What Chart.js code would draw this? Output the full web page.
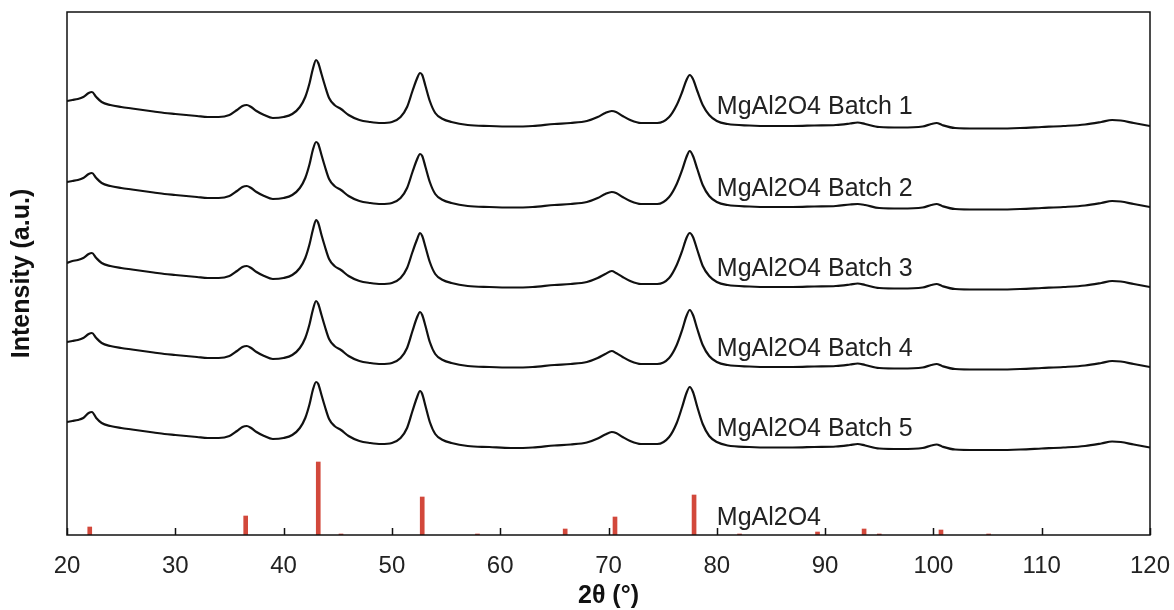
<!DOCTYPE html>
<html>
<head>
<meta charset="utf-8">
<script src="https://cdn.jsdelivr.net/npm/chart.js@4.4.1/dist/chart.umd.min.js"></script>
<style>
  html, body { margin: 0; padding: 0; background: #fff; }
  #wrap { width: 1174px; height: 610px; }
</style>
</head>
<body>
<div id="wrap"><canvas id="xrd"></canvas></div>
<script>
// 2θ positions (degrees) shared by all five scans
const twoTheta = [
  20, 20.5, 21, 21.5, 22, 22.3, 22.7, 23.2, 24, 25,
  26, 27, 28, 29, 30, 31, 32, 33, 34, 35,
  35.7, 36.2, 36.6, 37.0, 37.5, 38.2, 39, 40, 40.8, 41.5,
  42.0, 42.4, 42.7, 43.0, 43.2, 43.5, 43.8, 44.2, 44.7, 45.3,
  46, 47, 48, 49, 50, 50.8, 51.4, 51.9, 52.3, 52.6,
  52.8, 53.1, 53.5, 54.0, 54.7, 55.5, 57, 59, 61, 63,
  65, 66.5, 68, 69, 69.7, 70.3, 70.7, 71.3, 72, 73,
  74.5, 75.6, 76.3, 76.8, 77.2, 77.5, 77.8, 78.2, 78.7, 79.3,
  80, 81, 83, 85, 87, 89, 91, 92.3, 93.0, 93.7,
  95, 97, 99, 99.8, 100.3, 100.8, 102, 104, 106, 108,
  110, 112, 114, 115.5, 116.5, 117.3, 118.5, 120
];

// stacked intensities (a.u.), top trace first
const batch1 = [
  434, 435, 436, 438, 442, 443, 438, 433, 430, 428,
  426.5, 425, 423.5, 422, 421, 420, 419, 418, 418, 420,
  425, 429, 430, 428, 424, 420, 417, 418, 421, 428,
  438, 452, 466, 475, 472, 461, 450, 437, 430, 426,
  420, 415, 413, 412, 413, 418, 428, 444, 456, 462,
  460, 449, 434, 422, 416, 413, 410, 409, 408.5, 409,
  411, 412, 414, 418, 422, 424, 423, 419, 415, 412,
  412, 418, 430, 443, 455, 460, 456, 444, 430, 420,
  414, 411, 409.5, 409, 409, 409.5, 410, 411.5, 412.5, 411,
  408, 407.5, 408.5, 411, 412, 410, 407, 406.5, 406.5, 407,
  408, 409, 410.5, 413, 415, 414.5, 412, 409
];
const batch2 = [
  353, 354, 355, 357, 361, 362, 357, 352, 349, 347,
  345.5, 344, 342.5, 341, 340, 339, 338, 337, 337, 339,
  344, 348, 349, 347, 343, 339, 336, 337, 340, 347,
  357, 371, 385, 393, 391, 380, 369, 356, 349, 345,
  339, 334, 332, 331, 332, 337, 347, 363, 375, 381,
  379, 368, 353, 341, 335, 332, 329, 328, 327.5, 328,
  330, 331, 333, 337, 341, 343, 342, 338, 334, 331,
  331, 338, 351, 365, 378, 384, 379, 366, 350, 339,
  333, 330, 328.5, 328, 328, 328.5, 329, 330.5, 331, 330,
  327, 326.5, 327.5, 330, 331, 329, 326, 325.5, 325.5, 326,
  327, 328, 329.5, 332, 334, 333.5, 331, 328
];
const batch3 = [
  272, 274, 275, 277, 281, 282, 277, 272, 269, 267,
  265.5, 264, 262.5, 261, 260, 259, 258, 257, 257, 259,
  264, 268, 269, 267, 263, 259, 256, 257, 260, 267,
  277, 291, 305, 315, 312, 300, 289, 276, 269, 265,
  259, 254, 252, 251, 252, 257, 267, 283, 295, 302,
  299, 288, 273, 261, 255, 252, 249, 248, 247.5, 248,
  250, 251, 253, 257, 261, 264, 262, 258, 254, 251,
  251, 257, 270, 284, 297, 302, 298, 285, 269, 259,
  253, 250, 248.5, 248, 248, 248.5, 249, 250.5, 251.5, 250,
  247, 246.5, 247.5, 250, 251, 249, 246, 245.5, 245.5, 246,
  247, 248, 249.5, 252, 254, 253.5, 251, 248
];
const batch4 = [
  193, 194, 195, 197, 201, 202, 197, 192, 189, 187,
  185.5, 184, 182.5, 181, 180, 179, 178, 177, 177, 179,
  184, 188, 189, 187, 183, 179, 176, 177, 180, 187,
  197, 211, 225, 234, 231, 220, 209, 196, 189, 185,
  179, 174, 172, 171, 172, 177, 187, 204, 217, 223,
  220, 209, 193, 181, 175, 172, 169, 168, 167.5, 168,
  170, 171, 173, 177, 181, 184, 182, 178, 174, 171,
  171, 177, 190, 205, 219, 225, 220, 206, 190, 179,
  173, 170, 168.5, 168, 168, 168.5, 169, 170.5, 171.5, 170,
  167, 166.5, 167.5, 170, 171, 169, 166, 165.5, 165.5, 166,
  167, 168, 169.5, 172, 174, 173.5, 171, 168
];
const batch5 = [
  113, 114, 115, 117, 122, 123, 117, 112, 109, 107,
  105.5, 104, 102.5, 101, 100, 99, 98, 97, 97, 99,
  104, 108, 109, 107, 103, 99, 96, 97, 100, 107,
  117, 131, 145, 153, 151, 140, 129, 116, 109, 105,
  99, 94, 92, 91, 92, 97, 107, 124, 137, 144,
  141, 129, 113, 101, 95, 92, 89, 88, 87, 87.5,
  89.5, 90.5, 92.5, 96.5, 100.5, 103, 102, 98, 94, 91,
  91, 98, 112, 128, 142, 148, 143, 128, 111, 99,
  93, 89.5, 88, 87.5, 87.5, 88, 88.5, 90, 91, 89.5,
  86.5, 86, 87, 89.5, 90.5, 88.5, 85.5, 85, 85, 85.5,
  86.5, 87.5, 89, 91.5, 93.5, 93, 90.5, 87.5
];

// reference MgAl2O4 stick pattern
const refPos = [22.1, 36.5, 43.2, 45.3, 52.8, 57.9, 66.0, 70.6, 77.9, 82.1, 89.3, 93.6, 95.0, 100.7, 105.1];
const refInt = [8, 19, 73, 1, 38, 1, 6, 18, 40, 1, 3, 6, 1, 5, 1];

const scanNames = ['MgAl2O4 Batch 1', 'MgAl2O4 Batch 2', 'MgAl2O4 Batch 3', 'MgAl2O4 Batch 4', 'MgAl2O4 Batch 5'];
const refName = 'MgAl2O4';
const xTicks = [20, 30, 40, 50, 60, 70, 80, 90, 100, 110, 120];

const FONT = '"Liberation Sans", Arial, Helvetica, sans-serif';
const scans = [batch1, batch2, batch3, batch4, batch5];

// where each trace name sits: x in degrees, text baseline in a.u.
const nameX = 80;
const nameY = [421, 339, 259, 179, 99, 10];

const datasets = scans.map((s, k) => ({
  type: 'line',
  label: scanNames[k],
  data: twoTheta.map((t, i) => ({ x: t, y: s[i] })),
  borderColor: '#111',
  borderWidth: 2.2,
  pointRadius: 0,
  cubicInterpolationMode: 'monotone',
  fill: false
}));

datasets.push({
  type: 'bar',
  label: refName,
  data: refPos.map((p, i) => ({ x: p, y: refInt[i] })),
  backgroundColor: '#d2483b',
  borderWidth: 0,
  barThickness: 4
});

// frame, inward ticks and the trace names
const decorations = {
  id: 'decorations',
  afterDatasetsDraw(chart) {
    const { ctx, chartArea: a, scales: { x, y } } = chart;
    ctx.save();
    ctx.strokeStyle = '#111';
    ctx.lineWidth = 1.5;
    ctx.strokeRect(a.left, a.top, a.right - a.left, a.bottom - a.top);

    ctx.beginPath();
    xTicks.forEach(v => {
      const px = Math.round(x.getPixelForValue(v)) + 0.5;
      ctx.moveTo(px, a.bottom);
      ctx.lineTo(px, a.bottom - 7);
    });
    ctx.stroke();

    ctx.font = '25px ' + FONT;
    ctx.fillStyle = '#222';
    ctx.textAlign = 'left';
    ctx.textBaseline = 'alphabetic';
    const names = scanNames.concat([refName]);
    names.forEach((n, i) => {
      ctx.fillText(n, x.getPixelForValue(nameX), y.getPixelForValue(nameY[i]));
    });
    ctx.restore();
  }
};

new Chart(document.getElementById('xrd'), {
  type: 'line',
  data: { datasets: datasets },
  options: {
    responsive: true,
    maintainAspectRatio: false,
    animation: false,
    layout: { padding: { left: 0, right: 24, top: 12, bottom: 0 } },
    plugins: {
      legend: { display: false },
      tooltip: { enabled: false }
    },
    scales: {
      x: {
        type: 'linear',
        min: 20,
        max: 120,
        offset: false,
        grid: { display: false, drawTicks: false },
        border: { display: false },
        ticks: {
          stepSize: 10,
          autoSkip: false,
          maxRotation: 0,
          padding: 17,
          color: '#222',
          font: { family: FONT, size: 24 }
        },
        title: {
          display: true,
          text: '2θ (°)',
          color: '#111',
          padding: { top: 0, bottom: -1 },
          font: { family: FONT, size: 25, weight: 'bold' }
        },
        afterFit(scale) {
          scale.height = 75;
          scale.paddingLeft = 0;
          scale.paddingRight = 0;
        }
      },
      y: {
        min: 0,
        max: 523,
        grid: { display: false, drawTicks: false },
        border: { display: false },
        ticks: { display: false },
        title: {
          display: true,
          text: 'Intensity (a.u.)',
          color: '#111',
          padding: { top: 7, bottom: 0 },
          font: { family: FONT, size: 25, weight: 'bold' }
        },
        afterFit(scale) { scale.width = 67; }
      }
    }
  },
  plugins: [decorations]
});
</script>
</body>
</html>
